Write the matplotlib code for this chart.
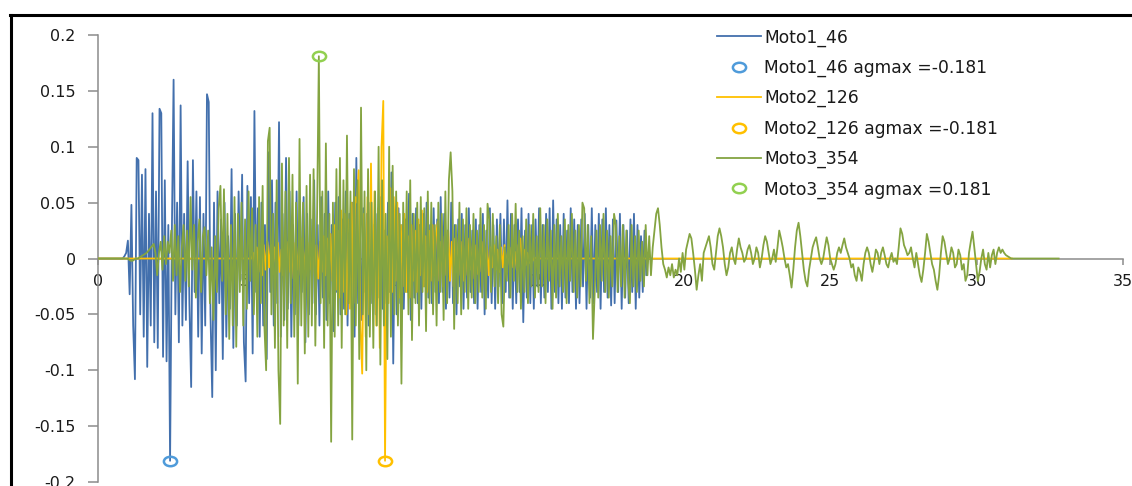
import numpy as np
import matplotlib
matplotlib.use("Agg")
import matplotlib.pyplot as plt
from matplotlib.path import Path
from matplotlib.transforms import Affine2D
from matplotlib.lines import Line2D
from matplotlib.ticker import FuncFormatter

# ---------------- data (accelerations in milli-g) ----------------
dt = 0.06

moto1_t0 = 0.84
moto1_mg = [
    0, 2, 5, 16, -32, 48, -60, -108, 90, 88, -50, 75, -70, 80, -97, 40, -60, 130, -75, 60,
    -80, 134, 130, -88, 70, -92, 30, -181, 20, 160, -50, 50, -75, 137, -60, 40, -55, 87, -40, -115,
    88, -30, 60, -70, 55, -85, 40, -60, 147, 140, -50, -124, 50, -100, 60, -40, 35, -90, 50, -70,
    20, -45, 80, -80, 40, -60, 60, -20, 75, -75, -110, 65, -40, 55, -85, 132, -30, 45, -70, 50,
    -60, 30, -90, 95, -30, 70, -60, 50, -40, 122, -70, 40, -55, 90, -45, 60, -70, 30, -50, 60,
    -60, 45, -30, 55, -75, 40, -50, 35, -40, 70, -50, 30, -60, 55, -35, 40, -55, 60, -40, 30,
    -65, 50, -30, 55, -50, 35, -45, 60, -60, 40, -35, 50, -70, 90, -40, 30, -55, 45, -30, 40,
    -60, 50, -40, 30, -50, 40, -35, 55, -45, 25, -40, 50, -30, 77, -94, 40, -50, 45, -40, 30,
    -45, 35, -30, 58, -55, 40, -35, 45, -40, 30, -45, 40, -25, 50, -35, 30, -40, 45, -30, 35,
    -40, 55, -30, 40, -45, 25, -35, 50, -40, 30, -50, 35, -25, 40, -45, 30, -35, 45, -30, 25,
    -40, 35, -45, 30, -30, 40, -50, 25, -35, 45, -40, 30, -45, 35, -25, 40, -40, 35, -30, 52,
    -35, 40, -45, 30, -40, 35, -30, 45, -57, 25, -35, 40, -40, 30, -45, 35, -25, 45, -40, 30,
    -35, 40, -30, 45, -45, 52, -30, 35, -40, 30, -45, 40, -35, 25, -40, 45, -30, 35, -45, 30,
    -40, 35, -25, 40, -45, 30, -35, 45, -40, 30, -30, 40, -45, 35, -30, 45, -35, 30, -42, 35,
    -40, 34, -30, 40, -45, 30, -35, 25, -40, 35, -30, 40, -45, 30, -35, 20, -30, 25, -15, 5, 0,
]

moto2_t0 = 5.24
moto2_end = 31.2
moto2_mg = [
    0, 5, -8, 10, -12, 8, -15, 12, -10, 15, -8, 12, -14, 10, -6, 14, -12, 8, -15, 10,
    -8, 15, -12, 10, -18, 14, -10, 12, -15, 18, -12, 10, -16, 14, -10, 18, -14, 12, -18, 15,
    -12, 20, -15, 18, -25, 22, -20, 30, -28, 25, -35, 43, -30, 40, -50, 35, -45, 50, -40, 55,
    50, 79, -60, -103, 40, -70, 55, -50, 85, -40, 60, -60, 45, -80, 100, 141, -181, 20, -40, 63,
    -30, 55, -20, 50, -35, 30, -25, 40, -30, 20, -35, 30, -20, 25, -30, 35, -15, 43, -25, 20,
    -30, 25, -20, 30, -15, 20, 33, -20, 15, -25, 20, -15, 25, -20, 15, -25, 18, -12, 20, -15,
    15, -20, 12, -15, 18, -10, 15, -18, 12, -14, 10, -12, 15, -10, 12, -15, 10, -8, 12, -10,
    8, -12, 10, -8, 12, -10, 8, -6, 10, -8, 6, -10, 12, 18, -5, 8, -6, 5, -4, 3, -2, 1, 0, 0,
]

moto3_t0 = 0.82
moto3_end = 32.8
moto3_mg = [
    0, 0, 0, 0, -1, -2, -2, -1, 0, 0, 1, 2, 3, 4, 5, 7, 9, 11, 13, 5,
    -15, 5, 15, -10, 20, -5, 15, 5, 25, -20, 30, -15, 20, -30, 10, 30, -20, 25, -25, 55,
    -10, 30, -35, 15, 35, -30, 20, 28, -15, 25, -40, 10, -55, 20, -30, 45, 65, -20, 62, -50,
    40, -72, 30, -60, 55, -79, 40, -30, 50, -60, 35, -45, 60, -20, 45, -50, 30, -70, 55, -40,
    65, -60, -100, 105, 117, -50, 40, -80, 70, -100, -148, 85, -60, 60, -80, 90, -40, 75, -70, 50,
    -112, 107, -60, 50, -85, 65, -70, 75, -60, 80, -78, 40, 181, -40, 60, -80, 103, -60, 40, -164,
    50, -70, 80, -60, 90, -80, 70, -50, 110, -40, 60, -162, 80, -60, 70, -90, 135, -50, 60, -100,
    80, -70, 50, -80, 60, -60, 100, -95, 70, -60, 40, -90, 100, -70, 83, -50, 60, -60, 40, -112,
    50, -30, 60, -50, 70, -73, 40, -40, 50, -60, 55, -30, 45, -65, 60, -40, 50, -50, 30, -60,
    50, -30, 40, -55, 60, -40, 70, 95, 60, -63, 30, -40, 50, -50, 35, -30, 45, -45, 30, -35,
    40, -40, 25, -30, 45, -35, 30, -45, 49, 35, -30, 40, -25, 20, -40, 30, -50, -61, 10, -20,
    30, -35, 40, -20, 49, -30, 25, -45, 20, -30, 35, -40, 30, -25, 40, -35, 20, -30, 45, -25,
    30, -40, 35, -20, 25, -45, 30, -35, 40, -25, 20, -30, 35, -40, 30, -20, 40, -30, 25, -35,
    30, -25, 50, 45, -20, 30, -40, 20, -72, -30, 25, -35, 30, -20, 40, -30, 25, -35, 20, -25,
    40, 30, -30, 20, -25, 30, -35, 25, -20, -40, 30, -25, 20, -30, 25, -20, 15, -25, 30, -15,
    20, -15, 10, 25, 40, 45, 30, 10, -5, -10, -17, -8, -15, -5, -17, -10, -15, 0, -12, 5,
    -10, 8, 15, 22, 18, 5, -10, -28, -15, -5, -20, 5, 10, 15, 20, 10, -5, -10, 5, 20,
    27, 20, 10, -5, -15, -8, 5, 10, 0, -5, 8, 18, 10, 5, -3, 0, 8, 12, 5, -5,
    0, 10, 5, -8, 0, 12, 20, 15, 5, -5, 0, 8, -3, 10, 25, 18, 10, 0, -8, -5,
    -15, -26, -10, 10, 25, 32, 20, 5, -10, -20, -25, -10, 0, 10, 15, 19, 10, 0, -5, 0,
    10, 19, 12, 0, -5, -10, -5, 5, 10, 5, 12, 18, 10, 5, 0, -8, -5, -15, -20, -8,
    -12, -20, -5, 5, 10, 5, -5, -12, -3, 8, 5, -5, 5, 10, 3, -5, -8, 0, 5, -3,
    0, -5, 10, 27, 22, 12, 8, 3, 5, 10, 0, -8, 5, -5, -15, -21, -10, 5, 22, 15,
    5, -5, -10, -20, -28, -15, 5, 20, 15, 5, -5, 0, 10, 5, -8, -5, 8, 3, -10, -5,
    -20, -15, 5, 15, 24, 10, -5, -20, -12, 0, 8, -5, -10, 5, -8, 3, 8, -5, 5, 10,
    5, 8, 5, 3, 2, 1, 0, 0, 0, 0, 0,
]

series_names = ["Moto1_46", "Moto2_126", "Moto3_354"]
peak_t = [2.46, 9.80, 7.54]
peak_a = [-0.181, -0.181, 0.181]
peak_labels = ["Moto1_46 agmax =-0.181", "Moto2_126 agmax =-0.181", "Moto3_354 agmax =0.181"]

x_ticks = [0, 5, 10, 15, 20, 25, 30, 35]
y_ticks = [-0.2, -0.15, -0.1, -0.05, 0, 0.05, 0.1, 0.15, 0.2]

# ---------------- styling ----------------
line_colors = ["#4370AD", "#FFC000", "#84A441"]
marker_colors = ["#4F9BDA", "#FFC000", "#92D050"]
plt.rcParams["font.family"] = ["DejaVu Sans"]


def build(t0, mg, t_end=None):
    t = t0 + dt * np.arange(len(mg))
    a = np.asarray(mg, dtype=float) / 1000.0
    t = np.concatenate([[0.0], t])
    a = np.concatenate([[0.0], a])
    if t_end is not None:
        t = np.concatenate([t, [t_end]])
        a = np.concatenate([a, [0.0]])
    return t, a


t1, a1 = build(moto1_t0, moto1_mg)
t2, a2 = build(moto2_t0, moto2_mg, moto2_end)
t3, a3 = build(moto3_t0, moto3_mg, moto3_end)

ellipse = Path.unit_circle().transformed(Affine2D().scale(1.4, 1.0))

fig = plt.figure(figsize=(11.32, 4.86), dpi=100)
ax = fig.add_axes([0.0866, 0.0082, 0.9055, 0.9198])

handles = []
for (t, a), name, lc, mc, pt, pa, pl in zip([(t1, a1), (t2, a2), (t3, a3)], series_names,
                                            line_colors, marker_colors, peak_t, peak_a, peak_labels):
    ln, = ax.plot(t, a, color=lc, lw=1.3, label=name, zorder=3)
    mk, = ax.plot([pt], [pa], linestyle="none", marker=ellipse, markersize=9.5,
                  markerfacecolor="none", markeredgecolor=mc, markeredgewidth=1.8,
                  label=pl, zorder=4)
    handles += [ln, mk]

ax.set_xlim(0, 35)
ax.set_ylim(-0.2, 0.2)
ax.set_xticks(x_ticks)
ax.set_yticks(y_ticks)
ax.yaxis.set_major_formatter(FuncFormatter(lambda v, p: "0" if abs(v) < 1e-12 else ("%g" % v)))

axis_gray = "#8C8C8C"
for s in ["top", "right"]:
    ax.spines[s].set_visible(False)
ax.spines["bottom"].set_position(("data", 0))
ax.spines["bottom"].set_color(axis_gray)
ax.spines["left"].set_color(axis_gray)
ax.spines["bottom"].set_linewidth(1.1)
ax.spines["left"].set_linewidth(1.1)
ax.spines["bottom"].set_zorder(1)
ax.tick_params(axis="y", direction="out", length=7, width=1.1, color=axis_gray,
               labelsize=11.5, labelcolor="#1a1a1a", pad=9)
ax.tick_params(axis="x", direction="out", length=4, width=1.1, color=axis_gray,
               labelsize=11.5, labelcolor="#1a1a1a", pad=7)
ax.patch.set_visible(False)

leg = fig.legend(handles=handles, loc="upper left", bbox_to_anchor=(0.6335, 0.9415),
                 frameon=False, fontsize=12.3, handlelength=2.55, handletextpad=0.22,
                 labelspacing=0.71, borderpad=0, borderaxespad=0)
for txt in leg.get_texts():
    txt.set_color("#1a1a1a")

# outer chart frame (top and left edges visible in the crop)
fig.add_artist(Line2D([0.0088, 1.0], [0.969, 0.969], transform=fig.transFigure,
                      color="black", lw=2.2))
fig.add_artist(Line2D([0.0097, 0.0097], [0.0, 0.969], transform=fig.transFigure,
                      color="black", lw=2.2))

fig.savefig("out.png", dpi=100)
